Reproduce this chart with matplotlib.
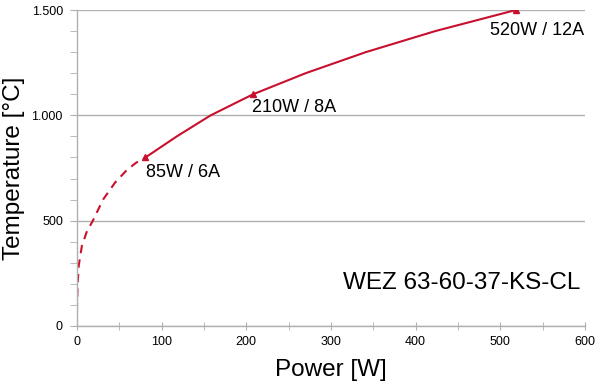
import matplotlib
matplotlib.use("Agg")
import matplotlib.pyplot as plt
from matplotlib.ticker import FuncFormatter, MultipleLocator

plt.rcParams["font.family"] = ["Liberation Sans", "DejaVu Sans"]

# measured curve (solid) and extrapolated start (dashed)
power_meas = [81, 118, 158, 208, 270, 341, 423, 518]
temp_meas = [800, 900, 1000, 1100, 1200, 1300, 1400, 1500]
power_extra = [0, 0.3, 1.0, 2.4, 6, 12, 19, 31, 45, 59, 70, 81]
temp_extra = [0, 100, 200, 290, 380, 450, 500, 600, 680, 740, 775, 800]

marker_power = [81, 208, 518]
marker_temp = [800, 1100, 1500]
marker_labels = ["85W / 6A", "210W / 8A", "520W / 12A"]
label_offsets = [(1, -15), (-1, -13), (-26, -20)]

RED = "#c8102e"
GRAY = "#b0b0b0"

fig = plt.figure(figsize=(6, 3.88), dpi=100)
ax = fig.add_axes([0.128, 0.16, 0.847, 0.814])

ax.plot(power_extra, temp_extra, color=RED, lw=1.5, ls=(0, (4, 3)))
ax.plot(power_meas, temp_meas, color=RED, lw=1.5)
ax.plot(marker_power, marker_temp, ls="none", marker="^", ms=5, color=RED)

for x, y, lab, off in zip(marker_power, marker_temp, marker_labels, label_offsets):
    ax.annotate(lab, (x, y), xytext=off, textcoords="offset pixels",
                ha="left", va="center", fontsize=13)

ax.text(0.99, 0.136, "WEZ 63-60-37-KS-CL", transform=ax.transAxes,
        ha="right", va="center", fontsize=17.5)

ax.set_xlim(0, 600)
ax.set_ylim(0, 1500)
ax.xaxis.set_major_locator(MultipleLocator(100))
ax.xaxis.set_minor_locator(MultipleLocator(50))
ax.yaxis.set_major_locator(MultipleLocator(500))
ax.yaxis.set_minor_locator(MultipleLocator(100))
ax.yaxis.set_major_formatter(FuncFormatter(lambda v, p: f"{int(v):,}".replace(",", ".")))

ax.grid(axis="y", which="major", color=GRAY, lw=1)
ax.set_axisbelow(True)
for s in ("top", "right"):
    ax.spines[s].set_visible(False)
for s in ("left", "bottom"):
    ax.spines[s].set_color(GRAY)
    ax.spines[s].set_linewidth(1)

ax.tick_params(axis="x", which="both", direction="inout", length=6, color=GRAY,
               labelsize=9, pad=4)
ax.tick_params(axis="y", which="both", direction="out", length=5, color=GRAY,
               labelsize=9, pad=5)

ax.set_xlabel("Power [W]", fontsize=17.5, labelpad=8)
ax.set_ylabel("Temperature [°C]", fontsize=17.5, labelpad=5)

fig.savefig("out.png", dpi=100)
